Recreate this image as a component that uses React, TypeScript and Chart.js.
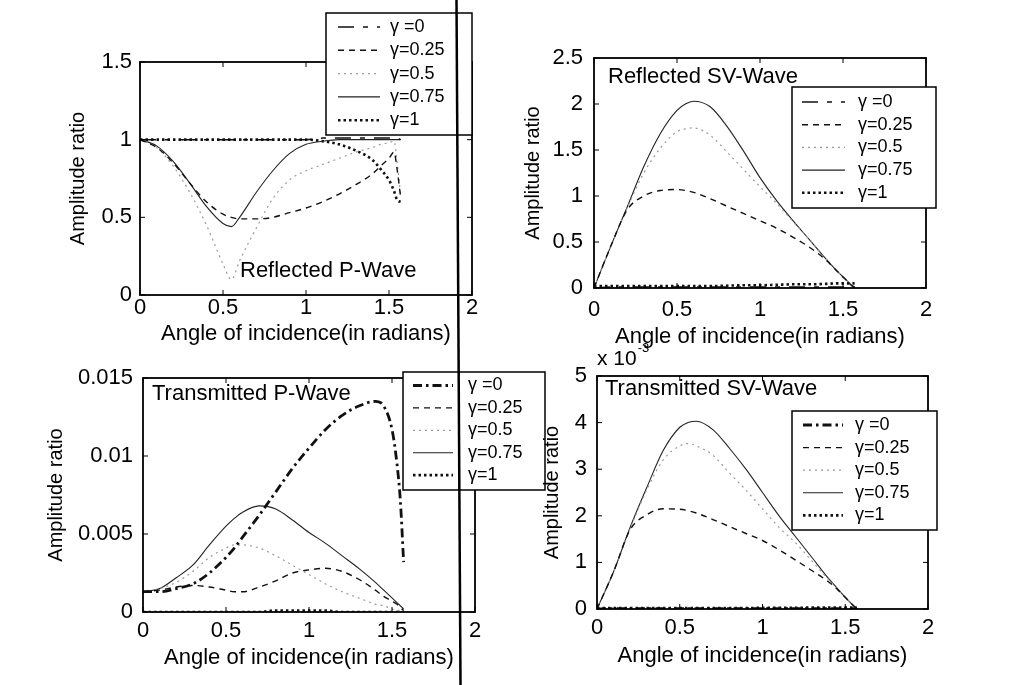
import React, { useEffect, useRef } from "react";
import { Chart, registerables } from "chart.js";

Chart.register(...registerables);

// ---------------- data ----------------
const ANGLES = [0, 0.1, 0.2, 0.3, 0.4, 0.5, 0.55, 0.6, 0.7, 0.8, 0.9, 1.0, 1.1, 1.2, 1.3, 1.4, 1.45, 1.5, 1.53, 1.55, 1.57];
const GAMMA_LABELS = ["γ =0", "γ=0.25", "γ=0.5", "γ=0.75", "γ=1"];
const X_TICKS = [0, 0.5, 1, 1.5, 2];
const X_TITLE = "Angle of incidence(in radians)";
const Y_TITLE = "Amplitude ratio";

// Reflected P-Wave
const RP_G0 = [1.0, 1.0, 1.0, 1.0, 1.0, 1.0, 1.0, 1.0, 1.0, 1.0, 1.0, 1.0, 1.01, 1.01, 1.01, 1.01, 1.01, 1.01, 1.01, 1.01, 1.0];
const RP_G025 = [1.0, 0.95, 0.85, 0.72, 0.6, 0.52, 0.5, 0.49, 0.49, 0.5, 0.53, 0.56, 0.6, 0.65, 0.71, 0.78, 0.83, 0.88, 0.92, 0.8, 0.63];
const RP_G05 = [1.0, 0.95, 0.83, 0.66, 0.45, 0.2, 0.1, 0.22, 0.43, 0.62, 0.74, 0.8, 0.84, 0.88, 0.92, 0.95, 0.97, 0.98, 0.99, 0.85, 0.64];
const RP_G075 = [1.0, 0.96, 0.86, 0.72, 0.57, 0.46, 0.44, 0.5, 0.66, 0.8, 0.91, 0.97, 0.99, 1.0, 1.0, 1.0, 1.0, 1.0, 1.0, 1.0, 1.0];
const RP_G1 = [1.0, 1.0, 1.0, 1.0, 1.0, 1.0, 1.0, 1.0, 1.0, 1.0, 1.0, 1.0, 0.99, 0.97, 0.93, 0.87, 0.81, 0.74, 0.67, 0.61, 0.6];
const RP_Y_TICKS = [0, 0.5, 1, 1.5];

// Reflected SV-Wave
const RSV_G0 = [0, 0.01, 0.01, 0.01, 0.01, 0.01, 0.01, 0.01, 0.01, 0.01, 0.01, 0.01, 0.01, 0.01, 0.01, 0.01, 0.01, 0.01, 0.01, 0.01, 0.01];
const RSV_G025 = [0, 0.45, 0.85, 1.0, 1.06, 1.07, 1.06, 1.04, 0.97, 0.89, 0.81, 0.73, 0.65, 0.55, 0.44, 0.3, 0.21, 0.12, 0.07, 0.03, 0.01];
const RSV_G05 = [0, 0.45, 0.87, 1.25, 1.52, 1.7, 1.73, 1.74, 1.66, 1.48, 1.29, 1.1, 0.92, 0.72, 0.52, 0.31, 0.21, 0.12, 0.07, 0.03, 0.01];
const RSV_G075 = [0, 0.45, 0.88, 1.32, 1.68, 1.93, 2.0, 2.03, 1.97, 1.76, 1.49, 1.2, 0.95, 0.73, 0.52, 0.31, 0.21, 0.12, 0.07, 0.03, 0.01];
const RSV_G1 = [0.02, 0.02, 0.02, 0.02, 0.02, 0.02, 0.02, 0.02, 0.02, 0.025, 0.03, 0.03, 0.035, 0.04, 0.04, 0.045, 0.05, 0.05, 0.05, 0.05, 0.05];
const RSV_Y_TICKS = [0, 0.5, 1, 1.5, 2, 2.5];

// Transmitted P-Wave
const TP_G0 = [0.0013, 0.0013, 0.0015, 0.0018, 0.0025, 0.0035, 0.0041, 0.0048, 0.0062, 0.0077, 0.0092, 0.0105, 0.0117, 0.0126, 0.0132, 0.0135, 0.0132, 0.0117, 0.0095, 0.0072, 0.0032];
const TP_G025 = [0.0013, 0.0014, 0.0016, 0.0017, 0.0016, 0.0014, 0.0013, 0.0013, 0.0016, 0.002, 0.0025, 0.0027, 0.0028, 0.0026, 0.0021, 0.0014, 0.001, 0.0007, 0.0005, 0.0003, 0.0001];
const TP_G05 = [0.0013, 0.0015, 0.0019, 0.0026, 0.0035, 0.0041, 0.0043, 0.0043, 0.0041, 0.0036, 0.003, 0.0024, 0.0018, 0.0013, 0.0009, 0.0005, 0.0004, 0.0002, 0.0001, 0.0001, 0];
const TP_G075 = [0.0013, 0.0015, 0.0022, 0.003, 0.0043, 0.0055, 0.006, 0.0064, 0.0068, 0.0066, 0.0059, 0.0051, 0.0044, 0.0036, 0.0028, 0.0019, 0.0014, 0.0009, 0.0006, 0.0004, 0.0002];
const TP_G1 = [0, 0, 0, 0, 0, 0, 0, 0, 0, 0.0001, 0.0001, 0.0001, 0.0001, 0, 0, 0, 0, 0, 0, 0, 0];
const TP_Y_TICKS = [0, 0.005, 0.01, 0.015];

// Transmitted SV-Wave (values in units of 10^-3)
const TSV_G0 = [0, 0.01, 0.01, 0.01, 0.01, 0.01, 0.01, 0.01, 0.01, 0.01, 0.01, 0.01, 0.01, 0.01, 0.01, 0.01, 0.01, 0.01, 0.01, 0.01, 0.01];
const TSV_G025 = [0, 0.8, 1.7, 2.02, 2.15, 2.14, 2.11, 2.06, 1.92, 1.77, 1.62, 1.47, 1.27, 1.05, 0.82, 0.58, 0.43, 0.25, 0.14, 0.07, 0.01];
const TSV_G05 = [0, 0.8, 1.72, 2.55, 3.2, 3.5, 3.55, 3.5, 3.3, 2.92, 2.55, 2.15, 1.75, 1.42, 1.02, 0.63, 0.45, 0.25, 0.14, 0.07, 0.01];
const TSV_G075 = [0, 0.8, 1.75, 2.6, 3.4, 3.9, 4.0, 4.03, 3.85, 3.45, 3.0, 2.5, 2.0, 1.55, 1.1, 0.65, 0.45, 0.25, 0.14, 0.07, 0.01];
const TSV_G1 = [0.02, 0.02, 0.02, 0.02, 0.02, 0.02, 0.02, 0.02, 0.02, 0.02, 0.02, 0.025, 0.025, 0.025, 0.03, 0.03, 0.03, 0.03, 0.03, 0.03, 0.03];
const TSV_Y_TICKS = [0, 1, 2, 3, 4, 5];

// ---------------- styles ----------------
const FONT = "'Liberation Sans', Arial, Helvetica, sans-serif";
const TICK_SIZE = 22;
const XTITLE_SIZE = 22;
const YTITLE_SIZE = 20;
const LEGEND_SIZE = 18;
const INNER_TITLE_SIZE = 22;

type LineStyle = { color: string; width: number; dash: number[] };
const SERIES_STYLES: LineStyle[] = [
  { color: "#111", width: 1.5, dash: [16, 9, 5, 9] },
  { color: "#111", width: 1.4, dash: [6, 5] },
  { color: "#9a9a9a", width: 1.2, dash: [2, 4] },
  { color: "#222", width: 1.1, dash: [] },
  { color: "#111", width: 2.6, dash: [2.5, 3] },
];
const THICK_G0_STYLE: LineStyle = { color: "#111", width: 2.8, dash: [9, 4, 2.5, 4] };

type Rect = { left: number; top: number; width: number; height: number };
type Box = { left: number; top: number; right: number; bottom: number };
type LegendBox = { x: number; y: number; w: number; h: number; row0: number; rowStep: number; lineX0: number; lineX1: number; textX: number };
type PanelSpec = {
  key: string;
  canvas: Rect;
  area: Box;
  yMax: number;
  yTicks: number[];
  series: number[][];
  thickG0: boolean;
  title: string;
  titleX: number;
  titleY: number;
  legend: LegendBox;
  yTitleX: number;
  xTitleY: number;
  xTickY: number;
  yTickRight: number;
  multiplier?: { x: number; y: number; base: string; exp: string };
};

const PANELS: PanelSpec[] = [
  {
    key: "rp",
    canvas: { left: 0, top: 0, width: 505, height: 355 },
    area: { left: 140, top: 62, right: 472, bottom: 295 },
    yMax: 1.5,
    yTicks: RP_Y_TICKS,
    series: [RP_G0, RP_G025, RP_G05, RP_G075, RP_G1],
    thickG0: false,
    title: "Reflected P-Wave",
    titleX: 240,
    titleY: 271,
    legend: { x: 326, y: 13, w: 146, h: 122, row0: 27, rowStep: 23.3, lineX0: 338, lineX1: 380, textX: 390 },
    yTitleX: 78,
    xTitleY: 334,
    xTickY: 308,
    yTickRight: 132,
  },
  {
    key: "rsv",
    canvas: { left: 505, top: 0, width: 504, height: 355 },
    area: { left: 594, top: 58, right: 926, bottom: 288 },
    yMax: 2.5,
    yTicks: RSV_Y_TICKS,
    series: [RSV_G0, RSV_G025, RSV_G05, RSV_G075, RSV_G1],
    thickG0: false,
    title: "Reflected SV-Wave",
    titleX: 608,
    titleY: 77,
    legend: { x: 792, y: 87, w: 144, h: 121, row0: 102, rowStep: 22.7, lineX0: 802, lineX1: 845, textX: 858 },
    yTitleX: 533,
    xTitleY: 337,
    xTickY: 310,
    yTickRight: 583,
  },
  {
    key: "tp",
    canvas: { left: 0, top: 345, width: 550, height: 340 },
    area: { left: 143, top: 378, right: 475, bottom: 612 },
    yMax: 0.015,
    yTicks: TP_Y_TICKS,
    series: [TP_G0, TP_G025, TP_G05, TP_G075, TP_G1],
    thickG0: true,
    title: "Transmitted P-Wave",
    titleX: 152,
    titleY: 394,
    legend: { x: 403, y: 372, w: 142, h: 118, row0: 385.5, rowStep: 22.4, lineX0: 413, lineX1: 453, textX: 468 },
    yTitleX: 56,
    xTitleY: 658,
    xTickY: 631,
    yTickRight: 133,
  },
  {
    key: "tsv",
    canvas: { left: 505, top: 338, width: 504, height: 347 },
    area: { left: 597, top: 376, right: 928, bottom: 609 },
    yMax: 5,
    yTicks: TSV_Y_TICKS,
    series: [TSV_G0, TSV_G025, TSV_G05, TSV_G075, TSV_G1],
    thickG0: true,
    title: "Transmitted SV-Wave",
    titleX: 605,
    titleY: 389,
    legend: { x: 792, y: 411, w: 145, h: 119, row0: 425, rowStep: 22.6, lineX0: 803, lineX1: 843, textX: 855 },
    yTitleX: 552,
    xTitleY: 656,
    xTickY: 628,
    yTickRight: 587,
    multiplier: { x: 597, y: 359, base: "x 10", exp: "-3" },
  },
];

function makeChart(canvas: HTMLCanvasElement, p: PanelSpec): Chart {
  const cx = p.canvas.left;
  const cy = p.canvas.top;
  const W = p.canvas.width;
  const H = p.canvas.height;

  const datasets = p.series.map((vals, i) => {
    const st = i === 0 && p.thickG0 ? THICK_G0_STYLE : SERIES_STYLES[i];
    return {
      label: GAMMA_LABELS[i],
      data: ANGLES.map((a, j) => ({ x: a, y: vals[j] })),
      borderColor: st.color,
      backgroundColor: "transparent",
      borderWidth: st.width,
      borderDash: st.dash,
      pointRadius: 0,
      fill: false,
      cubicInterpolationMode: "monotone" as const,
    };
  });

  const decor = {
    id: "panelDecor_" + p.key,
    afterDatasetsDraw(chart: any) {
      const { ctx, chartArea: a, scales } = chart;
      ctx.save();
      ctx.strokeStyle = "#000";
      ctx.lineWidth = 1;
      ctx.setLineDash([]);
      const tl = 5;
      for (const t of scales.x.ticks) {
        const px = scales.x.getPixelForValue(t.value);
        ctx.beginPath();
        ctx.moveTo(px, a.bottom);
        ctx.lineTo(px, a.bottom - tl);
        ctx.moveTo(px, a.top);
        ctx.lineTo(px, a.top + tl);
        ctx.stroke();
      }
      for (const t of scales.y.ticks) {
        const py = scales.y.getPixelForValue(t.value);
        ctx.beginPath();
        ctx.moveTo(a.left, py);
        ctx.lineTo(a.left + tl, py);
        ctx.moveTo(a.right, py);
        ctx.lineTo(a.right - tl, py);
        ctx.stroke();
      }
      ctx.lineWidth = 1.8;
      ctx.strokeRect(a.left, a.top, a.right - a.left, a.bottom - a.top);
      ctx.fillStyle = "#000";
      ctx.font = `${INNER_TITLE_SIZE}px ${FONT}`;
      ctx.textAlign = "left";
      ctx.textBaseline = "middle";
      ctx.fillText(p.title, p.titleX - cx, p.titleY - cy);
      ctx.restore();
    },
    afterDraw(chart: any) {
      const ctx = chart.ctx;
      const L = p.legend;
      const ox = -cx;
      const oy = -cy;
      ctx.save();
      ctx.setLineDash([]);
      ctx.fillStyle = "#fff";
      ctx.fillRect(L.x + ox, L.y + oy, L.w, L.h);
      ctx.strokeStyle = "#000";
      ctx.lineWidth = 1.5;
      ctx.strokeRect(L.x + ox, L.y + oy, L.w, L.h);
      chart.data.datasets.forEach((ds: any, i: number) => {
        const y = L.row0 + i * L.rowStep + oy;
        ctx.setLineDash(ds.borderDash || []);
        ctx.lineWidth = ds.borderWidth;
        ctx.strokeStyle = ds.borderColor;
        ctx.beginPath();
        ctx.moveTo(L.lineX0 + ox, y);
        ctx.lineTo(L.lineX1 + ox, y);
        ctx.stroke();
        ctx.setLineDash([]);
        ctx.fillStyle = "#000";
        ctx.font = `${LEGEND_SIZE}px ${FONT}`;
        ctx.textAlign = "left";
        ctx.textBaseline = "middle";
        ctx.fillText(ds.label, L.textX + ox, y);
      });
      if (p.multiplier) {
        const m = p.multiplier;
        ctx.fillStyle = "#000";
        ctx.font = `21px ${FONT}`;
        ctx.textAlign = "left";
        ctx.textBaseline = "middle";
        ctx.fillText(m.base, m.x + ox, m.y + oy);
        const w = ctx.measureText(m.base).width;
        ctx.font = `13px ${FONT}`;
        ctx.fillText(m.exp, m.x + ox + w + 1, m.y + oy - 11);
      }
      ctx.restore();
    },
  };

  return new Chart(canvas, {
    type: "line",
    data: { datasets },
    plugins: [decor],
    options: {
      responsive: false,
      animation: false,
      events: [],
      layout: {
        padding: { left: 0, top: p.area.top - cy, right: cx + W - p.area.right, bottom: 0 },
      },
      plugins: {
        legend: { display: false },
        tooltip: { enabled: false },
        title: { display: false },
      },
      scales: {
        x: {
          type: "linear",
          min: 0,
          max: 2,
          grid: { display: false, drawTicks: false },
          border: { display: false },
          afterBuildTicks: (s: any) => {
            s.ticks = X_TICKS.map((v) => ({ value: v }));
          },
          afterFit: (s: any) => {
            s.height = cy + H - p.area.bottom;
          },
          ticks: {
            padding: p.xTickY - p.area.bottom - TICK_SIZE * 0.6,
            font: { family: FONT, size: TICK_SIZE },
            color: "#000",
            maxRotation: 0,
            autoSkip: false,
            callback: (v: any) => String(v),
          },
          title: {
            display: true,
            text: X_TITLE,
            color: "#000",
            font: { family: FONT, size: XTITLE_SIZE },
            padding: { top: 0, bottom: cy + H - p.xTitleY - XTITLE_SIZE * 0.6 },
          },
        },
        y: {
          type: "linear",
          min: 0,
          max: p.yMax,
          grid: { display: false, drawTicks: false },
          border: { display: false },
          afterBuildTicks: (s: any) => {
            s.ticks = p.yTicks.map((v) => ({ value: v }));
          },
          afterFit: (s: any) => {
            s.width = p.area.left - cx;
          },
          ticks: {
            padding: p.area.left - p.yTickRight,
            font: { family: FONT, size: TICK_SIZE },
            color: "#000",
            autoSkip: false,
            callback: (v: any) => String(v),
          },
          title: {
            display: true,
            text: Y_TITLE,
            color: "#000",
            font: { family: FONT, size: YTITLE_SIZE },
            padding: { top: p.yTitleX - cx - YTITLE_SIZE * 0.6, bottom: 0 },
          },
        },
      },
    } as any,
  });
}

function Panel({ spec }: { spec: PanelSpec }) {
  const ref = useRef<HTMLCanvasElement | null>(null);
  useEffect(() => {
    if (!ref.current) return;
    const chart = makeChart(ref.current, spec);
    return () => chart.destroy();
  }, [spec]);
  return (
    <canvas
      ref={ref}
      width={spec.canvas.width}
      height={spec.canvas.height}
      style={{
        position: "absolute",
        left: spec.canvas.left,
        top: spec.canvas.top,
        width: spec.canvas.width,
        height: spec.canvas.height,
      }}
    />
  );
}

export default function App() {
  return (
    <div
      style={{
        position: "absolute",
        left: 0,
        top: 0,
        width: 1009,
        height: 685,
        background: "#fff",
        overflow: "hidden",
      }}
    >
      {PANELS.map((p) => (
        <Panel key={p.key} spec={p} />
      ))}
      <svg
        width={1009}
        height={685}
        style={{ position: "absolute", left: 0, top: 0, pointerEvents: "none" }}
      >
        <line x1={456.5} y1={0} x2={460.5} y2={685} stroke="#000" strokeWidth={2.5} />
      </svg>
    </div>
  );
}
